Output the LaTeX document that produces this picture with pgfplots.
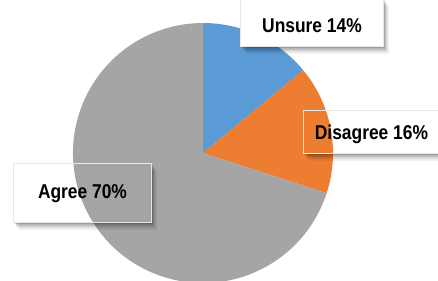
\documentclass[border=0pt]{standalone}
\usepackage{pgfplots}
\pgfplotsset{compat=1.18}
\usepackage{pgfplotstable}
\usepackage{fontspec}
\newfontfamily\lab[FakeStretch=0.87]{Liberation Sans}
\definecolor{cUnsure}{HTML}{5B9BD5}
\definecolor{cDis}{HTML}{ED7D31}
\definecolor{cAgree}{HTML}{A5A5A5}
\pgfplotstableread{
label pct
Unsure 14
Disagree 16
Agree 70
}\piedata
% #1 x1, #2 y1, #3 x2, #4 y2, #5 dx, #6 dy, #7 opacity
\newcommand\shadowL[7]{%
 \fill[black, opacity=#7] (axis cs:{#3},{#2+#6}) -- (axis cs:{#3+#5},{#2+#6}) -- (axis cs:{#3+#5},{#4+#6}) -- (axis cs:{#1+#5},{#4+#6}) -- (axis cs:{#1+#5},{#4}) -- (axis cs:{#3},{#4}) -- cycle;}
\newcommand\labbox[4]{%
 \shadowL{#1}{#2}{#3}{#4}{1.5}{2}{0.18}%
 \shadowL{#1}{#2}{#3}{#4}{3}{4}{0.14}%
 \shadowL{#1}{#2}{#3}{#4}{4.5}{6}{0.09}%
 \shadowL{#1}{#2}{#3}{#4}{6}{8}{0.05}%
 \draw[black!9, line width=0.6bp] (axis cs:#1,#2) rectangle (axis cs:#3,#4);}
\begin{document}
\begin{tikzpicture}
\pgfplotstablegetelem{0}{pct}\of\piedata \let\pa\pgfplotsretval
\pgfplotstablegetelem{1}{pct}\of\piedata \let\pb\pgfplotsretval
\pgfplotstablegetelem{2}{pct}\of\piedata \let\pc\pgfplotsretval
\pgfmathsetmacro\aone{90-3.6*\pa}
\pgfmathsetmacro\atwo{\aone-3.6*\pb}
\pgfmathsetmacro\athree{\atwo-3.6*\pc}
\clip (0,0) rectangle (438bp,281bp);
\begin{axis}[x=1bp, y=1bp, xmin=0, xmax=438, ymin=0, ymax=281, y dir=reverse,
  hide axis, anchor=south west, at={(0,0)}, clip=false]
\fill[cUnsure] (axis cs:203,153) -- ++(90:130bp) arc[start angle=90, end angle=\aone, radius=130bp] -- cycle;
\fill[cDis] (axis cs:203,153) -- ++(\aone:130bp) arc[start angle=\aone, end angle=\atwo, radius=130bp] -- cycle;
\fill[cAgree] (axis cs:203,153) -- ++(\atwo:130bp) arc[start angle=\atwo, end angle=\athree, radius=130bp] -- cycle;
\fill[white] (axis cs:240,-2) rectangle (axis cs:383,46);
\labbox{240}{-2}{383}{46}
\labbox{303}{110}{450}{153}
\labbox{13}{163}{151}{222}
\node[anchor=base, font=\lab\bfseries\fontsize{20bp}{24bp}\selectfont] at (axis cs:312,32) {Unsure 14\%};
\node[anchor=base, font=\lab\bfseries\fontsize{20bp}{24bp}\selectfont] at (axis cs:371.5,139.5) {Disagree 16\%};
\node[anchor=base, font=\lab\bfseries\fontsize{20bp}{24bp}\selectfont] at (axis cs:82.5,198.3) {Agree 70\%};
\end{axis}
\end{tikzpicture}
\end{document}
